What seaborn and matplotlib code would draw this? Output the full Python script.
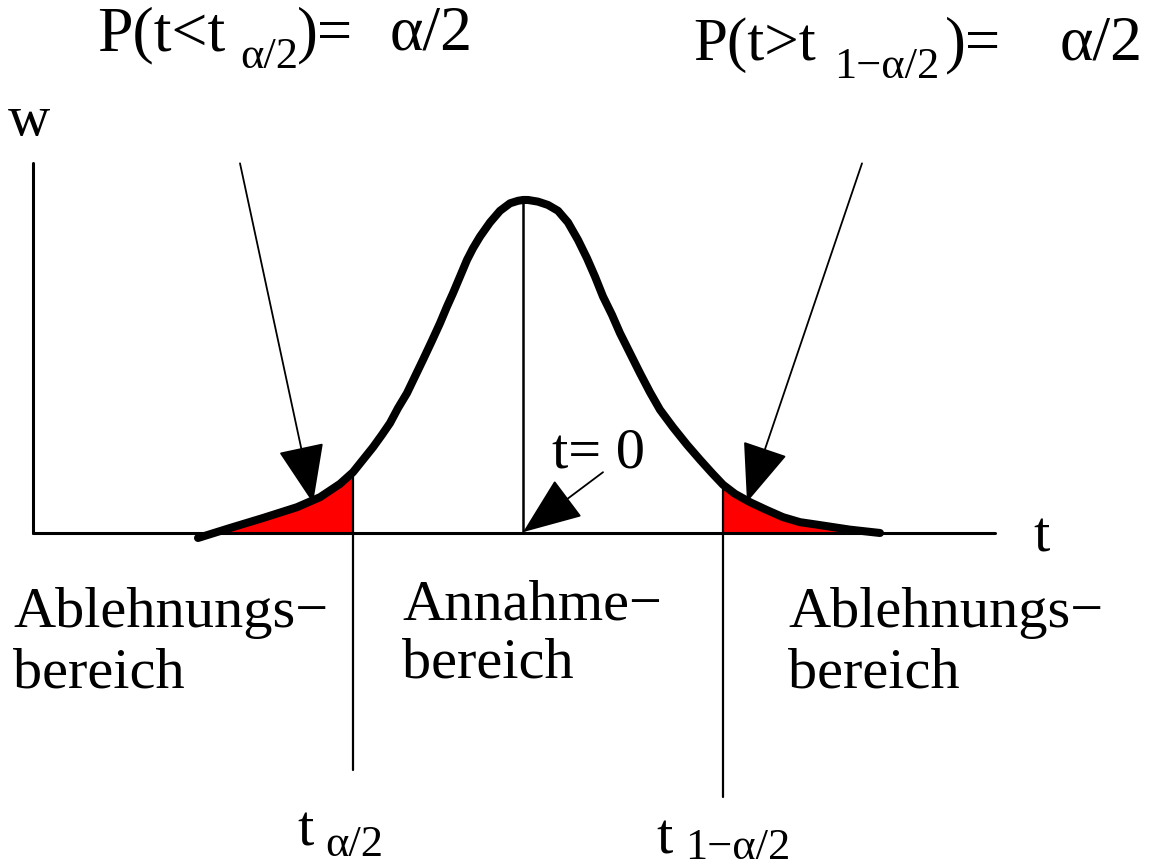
import numpy as np
import pandas as pd
import matplotlib
matplotlib.use("Agg")
import matplotlib.pyplot as plt
import seaborn as sns

# t-Verteilung, t in Einheiten, w = Dichte
t_vals = [-3.25, -2.93, -2.60, -2.26, -2.03, -1.83, -1.70, -1.58, -1.50, -1.41,
          -1.33, -1.25, -1.16, -1.08, -1.00, -0.91, -0.83, -0.76, -0.70, -0.63,
          -0.56, -0.50, -0.43, -0.33, -0.23, -0.13, -0.05, 0.00, 0.05, 0.15,
          0.25, 0.35, 0.45, 0.55, 0.64, 0.72, 0.80, 0.89, 0.97, 1.07,
          1.17, 1.27, 1.37, 1.50, 1.64, 1.77, 1.89, 2.00, 2.12, 2.27,
          2.43, 2.60, 2.77, 2.94, 3.27, 3.57]
w_vals = [-0.006, 0.006, 0.018, 0.031, 0.043, 0.059, 0.073, 0.091, 0.103, 0.118,
          0.132, 0.150, 0.168, 0.188, 0.208, 0.231, 0.252, 0.272, 0.288, 0.308,
          0.328, 0.342, 0.356, 0.373, 0.387, 0.396, 0.399, 0.400, 0.400, 0.398,
          0.394, 0.387, 0.373, 0.352, 0.330, 0.308, 0.284, 0.262, 0.240, 0.216,
          0.192, 0.169, 0.148, 0.127, 0.106, 0.088, 0.072, 0.058, 0.047, 0.037,
          0.028, 0.019, 0.013, 0.010, 0.004, 0.000]

t_lo, t_hi = -1.70, 2.00       # kritische Werte
fill_lo_start, fill_hi_end = -2.93, 3.27

df = pd.DataFrame({'t': t_vals, 'w': w_vals})

sns.set_style("white")
plt.rcParams['font.family'] = ['Liberation Serif', 'DejaVu Serif']
plt.rcParams['text.color'] = 'black'

W, H = 1174, 867
fig = plt.figure(figsize=(W / 100, H / 100), dpi=100)
ax = fig.add_axes([0, 0, 1, 1])

# rote Ablehnungsbereiche
left = df[(df.t >= fill_lo_start) & (df.t <= t_lo)]
right = df[(df.t >= t_hi) & (df.t <= fill_hi_end)]
ax.fill_between(left.t, 0, left.w, color='#ff0000', lw=0)
ax.fill_between(right.t, 0, right.w, color='#ff0000', lw=0)

# Achsen und Hilfslinien
ax.plot([-4.90, -4.90], [0, 0.444], color='black', lw=2.2)
ax.plot([-4.90, 4.72], [0, 0], color='black', lw=2.2)
ax.plot([0, 0], [0, 0.40], color='black', lw=1.8)
ax.plot([t_lo, t_lo], [-0.285, df.w[df.t == t_lo].iloc[0]], color='black', lw=1.6)
ax.plot([t_hi, t_hi], [-0.317, df.w[df.t == t_hi].iloc[0]], color='black', lw=1.6)

# Kurve
sns.lineplot(data=df, x='t', y='w', sort=False, estimator=None, color='black',
             linewidth=5.8, solid_joinstyle='round', ax=ax)
ax.set_xlim(-5.23, 6.51)
ax.set_ylim(-0.4012, 0.6402)
ax.axis('off')

# Pfeile
arrow = dict(arrowstyle='-|>,head_length=1.9,head_width=0.75', mutation_scale=20,
             lw=1.3, color='black', shrinkA=0, shrinkB=0)
ax.annotate('', xy=(-2.10, 0.036), xytext=(-2.83, 0.444), arrowprops=arrow)
ax.annotate('', xy=(2.24, 0.037), xytext=(3.39, 0.444), arrowprops=arrow)
ax.annotate('', xy=(0.0, 0.001), xytext=(0.80, 0.073), arrowprops=arrow)


def txt(x, y, s, size=42):
    fig.text(x / W, 1 - y / H, s, fontsize=size, ha='left', va='baseline',
             color='black')


# Beschriftungen oben
txt(97, 50, 'P(t<t', 46)
txt(240, 68, 'α/2', 32)
txt(297, 50, ')=', 45)
txt(390, 50, 'α/2', 46)
txt(693, 60, 'P(t>t', 44)
txt(834, 78, '1−α/2', 32)
txt(945, 60, ')=', 45)
txt(1060, 60, 'α/2', 46)

txt(8, 135, 'w')
txt(1033, 552, 't')
txt(552, 467, 't= 0')

# Bereiche
txt(13, 627, 'Ablehnungs−')
txt(13, 688, 'bereich')
txt(402, 619, 'Annahme−')
txt(402, 678, 'bereich')
txt(788, 627, 'Ablehnungs−')
txt(788, 688, 'bereich')

# kritische Werte
txt(297, 845, 't')
txt(325, 856, 'α/2', 32)
txt(656, 853, 't')
txt(685, 859, '1−α/2', 32)

fig.savefig('out.png', dpi=100)
